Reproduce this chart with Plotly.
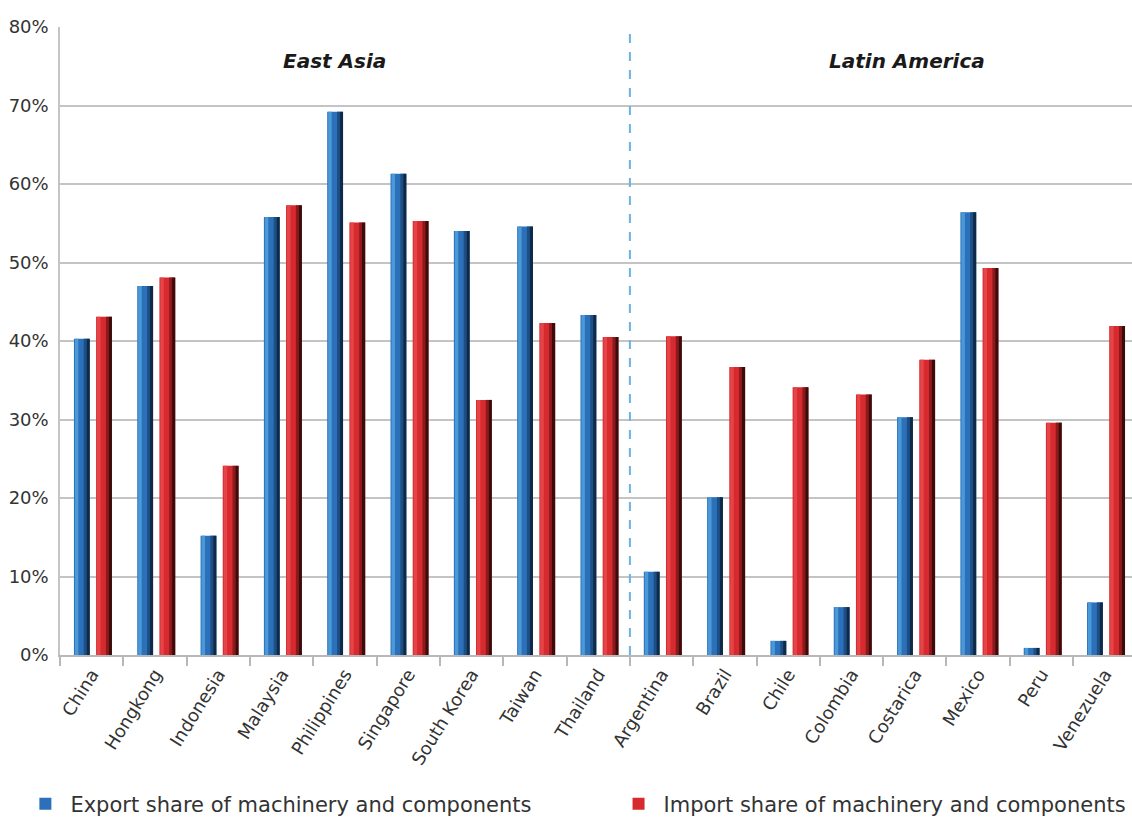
import plotly.graph_objects as go

# Machinery & components shares of trade, by economy (%)
countries = ["China", "Hongkong", "Indonesia", "Malaysia", "Philippines", "Singapore",
             "South Korea", "Taiwan", "Thailand", "Argentina", "Brazil", "Chile",
             "Colombia", "Costarica", "Mexico", "Peru", "Venezuela"]
export_share = [40.3, 47.0, 15.2, 55.8, 69.2, 61.3, 54.0, 54.6, 43.3,
                10.6, 20.1, 1.8, 6.1, 30.3, 56.4, 0.9, 6.7]
import_share = [43.1, 48.1, 24.1, 57.3, 55.1, 55.3, 32.5, 42.3, 40.5,
                40.6, 36.7, 34.1, 33.2, 37.6, 49.3, 29.6, 41.9]
region_labels = ["East Asia", "Latin America"]
y_ticks = [0, 10, 20, 30, 40, 50, 60, 70, 80]
y_tick_text = [f"{v}%" for v in y_ticks]

FONT = "DejaVu Sans"
BAR_W = 0.25


def bevel_bar(values, offset, name, base, light, dark, darker, legend_id):
    """Bar with a lighter left strip and shaded right edge for a bevelled look."""
    return [
        go.Bar(x=countries, y=values, name=name, offset=offset, width=BAR_W,
               marker=dict(color=base, line=dict(width=0)), legend=legend_id),
        go.Bar(x=countries, y=values, offset=offset + BAR_W * 0.06, width=BAR_W * 0.22,
               marker=dict(color=light, line=dict(width=0)), showlegend=False,
               hoverinfo="skip"),
        go.Bar(x=countries, y=values, offset=offset + BAR_W * 0.62, width=BAR_W * 0.18,
               marker=dict(color=dark, line=dict(width=0)), showlegend=False,
               hoverinfo="skip"),
        go.Bar(x=countries, y=values, offset=offset + BAR_W * 0.80, width=BAR_W * 0.20,
               marker=dict(color=darker, line=dict(width=0)), showlegend=False,
               hoverinfo="skip"),
    ]


fig = go.Figure()
for t in bevel_bar(export_share, -0.28, "Export share of machinery and components",
                   "#2b70b8", "#4a9ad9", "#1d4f85", "#0f2a48", "legend"):
    fig.add_trace(t)
for t in bevel_bar(import_share, 0.07, "Import share of machinery and components",
                   "#d62a2f", "#e54548", "#8c1a1d", "#3a0c0c", "legend2"):
    fig.add_trace(t)

# Divider between the two regions
fig.add_shape(type="line", xref="x", yref="paper", x0=8.5, x1=8.5, y0=0, y1=1,
              line=dict(color="#6ab2e2", width=2, dash="dash"))

for label, xpos in zip(region_labels, [0.2565, 0.79]):
    fig.add_annotation(text=f"<b><i>{label}</i></b>", xref="paper", yref="y",
                       x=xpos, y=75.7, xanchor="center", yanchor="middle",
                       showarrow=False,
                       font=dict(family=FONT, size=20, color="#1a1a1a"))

legend_style = dict(orientation="h", xref="container", yref="container",
                    y=0.023, xanchor="left", yanchor="middle", itemwidth=40,
                    font=dict(family=FONT, size=21, color="#333333"),
                    bgcolor="rgba(0,0,0,0)")

fig.update_layout(
    width=1132, height=823,
    margin=dict(l=60, r=0, t=27, b=168),
    paper_bgcolor="white", plot_bgcolor="white",
    barmode="overlay",
    font=dict(family=FONT, size=18, color="#333333"),
    legend=dict(x=0.018, **legend_style),
    legend2=dict(x=0.542, **legend_style),
    xaxis=dict(type="category", range=[-0.5, 16.43], tickson="boundaries",
               ticks="outside", ticklen=9, tickcolor="#b8b8b8", tickwidth=1.5,
               showline=True, linecolor="#b8b8b8", linewidth=1.5,
               showgrid=False, tickangle=-58,
               tickfont=dict(family=FONT, size=18, color="#333333")),
    yaxis=dict(range=[0, 80], tickvals=y_ticks, ticktext=y_tick_text,
               showgrid=True, gridcolor="#c4c4c4", gridwidth=1.5,
               showline=True, linecolor="#c4c4c4", linewidth=1.5,
               zeroline=False, ticks="", ticklabelstandoff=6,
               tickfont=dict(family=FONT, size=18, color="#333333")),
)

fig.write_html("out.html")
